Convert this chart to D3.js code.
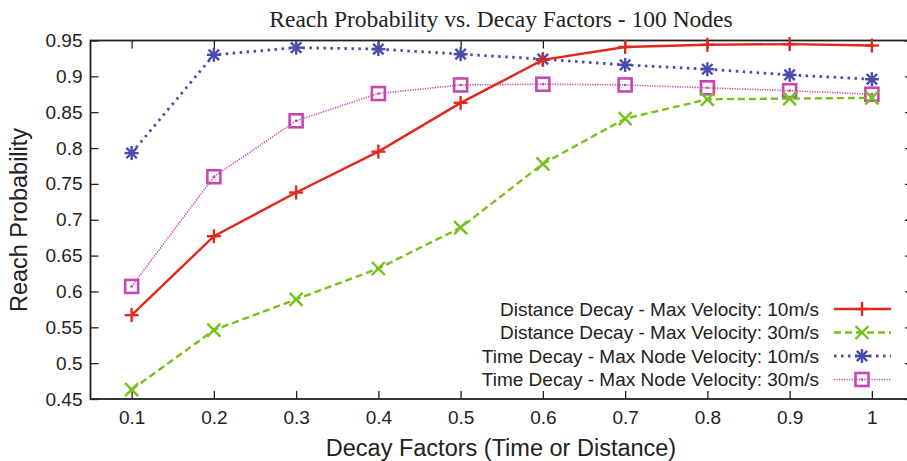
<!DOCTYPE html>
<html><head><meta charset="utf-8">
<script src="https://cdn.jsdelivr.net/npm/d3@7"></script>
<style>body{margin:0;background:#fff}svg{display:block}</style>
</head><body>
<svg id="c" width="907" height="461"></svg>
<script>
const decay = [0.1,0.2,0.3,0.4,0.5,0.6,0.7,0.8,0.9,1.0];
const distance10 = [0.567,0.677,0.738,0.795,0.863,0.923,0.941,0.944,0.945,0.943];
const distance30 = [0.463,0.546,0.589,0.632,0.689,0.778,0.841,0.868,0.869,0.870];
const time10 = [0.793,0.930,0.940,0.938,0.931,0.924,0.916,0.910,0.902,0.896];
const time30 = [0.607,0.760,0.838,0.876,0.888,0.889,0.888,0.884,0.880,0.875];
const yTicks = [0.45,0.5,0.55,0.6,0.65,0.7,0.75,0.8,0.85,0.9,0.95];
const xTicks = [0.1,0.2,0.3,0.4,0.5,0.6,0.7,0.8,0.9,1];
const seriesNames = ["Distance Decay - Max Velocity: 10m/s","Distance Decay - Max Velocity: 30m/s","Time Decay - Max Node Velocity: 10m/s","Time Decay - Max Node Velocity: 30m/s"];

const series = [
  {name:seriesNames[0], values:distance10, color:"#e2271d", dash:null, width:2.4, marker:"plus"},
  {name:seriesNames[1], values:distance30, color:"#78c11a", dash:"7,4", width:2.4, marker:"cross"},
  {name:seriesNames[2], values:time10, color:"#4a4bab", dash:"2.5,4.5", width:2.8, marker:"star"},
  {name:seriesNames[3], values:time30, color:"#c646b3", dash:"1.2,1.3", width:1.6, marker:"box"}
];

const svg = d3.select("#c");
const L=90.5, R=913, T=40.5, B=399;
const x = d3.scaleLinear().domain([0.05,1.05]).range([L,R]);
const y = d3.scaleLinear().domain([0.45,0.95]).range([B,T]);
const sans = "'Liberation Sans', Arial, Helvetica, sans-serif";
const ink = "#222";

// title
svg.append("text").attr("x",501).attr("y",27).attr("text-anchor","middle")
  .attr("font-family","'Liberation Serif', 'Times New Roman', serif").attr("font-size",23.5)
  .attr("fill",ink).text("Reach Probability vs. Decay Factors - 100 Nodes");

// axes: ticks inward
const tickLen = 8;
const axB = d3.axisBottom(x).tickValues(xTicks).tickSize(-tickLen).tickPadding(12).tickFormat(d3.format("~g"));
const axT = d3.axisTop(x).tickValues(xTicks).tickSize(-tickLen).tickFormat("");
const axL = d3.axisLeft(y).tickValues(yTicks).tickSize(-tickLen).tickPadding(8).tickFormat(d3.format("~g"));
const axR = d3.axisRight(y).tickValues(yTicks).tickSize(-tickLen).tickFormat("");
function style(g){
  g.select(".domain").remove();
  g.selectAll("line").attr("stroke",ink).attr("stroke-width",1.3);
  g.selectAll("text").attr("font-family",sans).attr("font-size",19).attr("fill",ink);
}
svg.append("g").attr("transform",`translate(0,${B})`).call(axB).call(style);
svg.append("g").attr("transform",`translate(0,${T})`).call(axT).call(style);
svg.append("g").attr("transform",`translate(${L},0)`).call(axL).call(style);
svg.append("g").attr("transform",`translate(${R},0)`).call(axR).call(style);
svg.append("rect").attr("x",L).attr("y",T).attr("width",R-L).attr("height",B-T)
  .attr("fill","none").attr("stroke",ink).attr("stroke-width",1.8);

// labels
svg.append("text").attr("x",501).attr("y",456).attr("text-anchor","middle")
  .attr("font-family",sans).attr("font-size",23.5).attr("fill",ink).text("Decay Factors (Time or Distance)");
svg.append("text").attr("transform","translate(27,220) rotate(-90)").attr("text-anchor","middle")
  .attr("font-family",sans).attr("font-size",23.5).attr("fill",ink).text("Reach Probability");

function drawMarker(g, type, cx, cy, color){
  const s = 7;
  if(type==="plus"||type==="star"){
    g.append("line").attr("x1",cx-s).attr("x2",cx+s).attr("y1",cy).attr("y2",cy).attr("stroke",color).attr("stroke-width",2.4);
    g.append("line").attr("x1",cx).attr("x2",cx).attr("y1",cy-s).attr("y2",cy+s).attr("stroke",color).attr("stroke-width",2.4);
  }
  if(type==="cross"||type==="star"){
    const d = type==="star"?5.2:6.5;
    g.append("line").attr("x1",cx-d).attr("x2",cx+d).attr("y1",cy-d).attr("y2",cy+d).attr("stroke",color).attr("stroke-width",2.4);
    g.append("line").attr("x1",cx-d).attr("x2",cx+d).attr("y1",cy+d).attr("y2",cy-d).attr("stroke",color).attr("stroke-width",2.4);
  }
  if(type==="box"){
    g.append("rect").attr("x",cx-6.5).attr("y",cy-6.5).attr("width",13).attr("height",13)
      .attr("fill","none").attr("stroke",color).attr("stroke-width",2.6);
    g.append("rect").attr("x",cx-1.2).attr("y",cy-1.2).attr("width",2.4).attr("height",2.4).attr("fill",color);
  }
}

const line = d3.line().x((d,i)=>x(decay[i])).y(d=>y(d));
const order = [3,2,1,0];
order.forEach(k=>{
  const s = series[k];
  const g = svg.append("g");
  g.append("path").datum(s.values).attr("d",line).attr("fill","none")
    .attr("stroke",s.color).attr("stroke-width",s.width).attr("stroke-dasharray",s.dash);
  s.values.forEach((v,i)=>drawMarker(g,s.marker,x(decay[i]),y(v),s.color));
});

// legend
const lg = svg.append("g");
series.forEach((s,i)=>{
  const cy = 309 + i*23.5;
  lg.append("text").attr("x",819).attr("y",cy).attr("dy","0.35em").attr("text-anchor","end")
    .attr("font-family",sans).attr("font-size",19).attr("fill",ink).text(s.name);
  lg.append("line").attr("x1",834).attr("x2",891).attr("y1",cy).attr("y2",cy)
    .attr("stroke",s.color).attr("stroke-width",s.width).attr("stroke-dasharray",s.dash);
  drawMarker(lg,s.marker,862,cy,s.color);
});
</script>
</body></html>
